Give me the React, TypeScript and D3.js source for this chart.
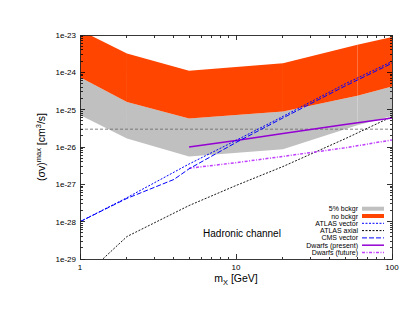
import React from "react";
import * as d3 from "d3";

const W = 415, H = 321;
const M = { left: 80, right: 392, top: 35, bottom: 259 };

// Bands
const bandMass = [1, 2, 5, 20, 60, 100];
const noBkgTop = [1.35e-23, 3.2e-24, 1.1e-24, 1.75e-24, 5.5e-24, 8.9e-24];
const bandMid = [7.4e-25, 1.6e-25, 5.8e-26, 8.9e-26, 2.35e-25, 4.2e-25];
const bkg5Bottom = [7.2e-26, 1.7e-26, 5.6e-27, 8.7e-27, 3.8e-26, 6.8e-26];
const bandSegments = [[0, 1], [1, 3], [3, 4], [4, 5]];

// Lines
const atlasVecMass = [1, 2, 5, 10, 20, 50, 100];
const atlasVec = [1.0e-28, 4.4e-28, 3.5e-27, 1.5e-26, 6.6e-26, 4.9e-25, 1.95e-24];
const cmsVecMass = [1, 2, 4, 5, 10, 20, 50, 100];
const cmsVec = [1.0e-28, 4.2e-28, 1.35e-27, 2.6e-27, 1.32e-26, 6.0e-26, 4.3e-25, 1.75e-24];
const atlasAxMass = [1, 2, 5, 10, 20, 50, 100];
const atlasAx = [2.7e-30, 4.0e-29, 2.7e-28, 9.3e-28, 3.0e-27, 1.66e-26, 6.5e-26];
const dwarfMass = [5, 10, 20, 50, 100];
const dwarfPresent = [1.0e-26, 1.5e-26, 2.3e-26, 4.0e-26, 6.0e-26];
const dwarfFuture = [2.7e-27, 3.8e-27, 5.6e-27, 9.5e-27, 1.55e-26];
const thermal = 3e-26;

const xTicks = [1, 10, 100];
const xTickLabels = ["1", "10", "100"];
const yTicks = [1e-29, 1e-28, 1e-27, 1e-26, 1e-25, 1e-24, 1e-23];
const yTickLabels = ["1e-29", "1e-28", "1e-27", "1e-26", "1e-25", "1e-24", "1e-23"];

const legendLabels = ["5% bckgr", "no bckgr", "ATLAS vector", "ATLAS axial", "CMS vector", "Dwarfs (present)", "Dwarfs (future)"];

const C_ORANGE = "#ff4500";
const C_GRAY = "#c0c0c0";
const C_BLUE = "#0000ff";
const C_PURPLE = "#9400d3";
const C_PURPLE2 = "#c040ff";

export default function App() {
  const x = d3.scaleLog().domain([1, 100]).range([M.left, M.right]);
  const y = d3.scaleLog().domain([1e-29, 1e-23]).range([M.bottom, M.top]);

  const line = (xs: number[], ys: number[]) =>
    d3.line<number>().x((_, i) => x(xs[i])).y((v) => y(v))(ys) || "";

  const area = (lo: number[], hi: number[], a: number, b: number) => {
    const idx = d3.range(a, b + 1);
    return d3.area<number>()
      .x((i) => x(bandMass[i]))
      .y0((i) => y(lo[i]))
      .y1((i) => y(hi[i]))(idx) || "";
  };

  const font = "'Liberation Sans', Arial, sans-serif";

  // minor ticks
  const xMinor: number[] = [];
  for (let d = 1; d < 100; d *= 10) for (let k = 2; k <= 9; k++) xMinor.push(d * k);
  const yMinor: number[] = [];
  for (let e = -29; e < -23; e++) for (const k of [2, 3, 4, 5, 6, 7, 8, 9]) yMinor.push(k * Math.pow(10, e));

  const legendX = 358;
  const legendY0 = 208.7;
  const legendDy = 7.3;

  const legendSample = (i: number) => {
    const yy = legendY0 + i * legendDy;
    const x0 = 362, x1 = 384;
    switch (i) {
      case 0: return <rect x={x0} y={yy - 2} width={x1 - x0} height={4} fill={C_GRAY} />;
      case 1: return <rect x={x0} y={yy - 2} width={x1 - x0} height={4} fill={C_ORANGE} />;
      case 2: return <line x1={x0} x2={x1} y1={yy} y2={yy} stroke={C_BLUE} strokeWidth={1} strokeDasharray="2,1.5" />;
      case 3: return <line x1={x0} x2={x1} y1={yy} y2={yy} stroke="#000" strokeWidth={1} strokeDasharray="2,1.5" />;
      case 4: return <line x1={x0} x2={x1} y1={yy} y2={yy} stroke={C_BLUE} strokeWidth={1} strokeDasharray="5,2" />;
      case 5: return <line x1={x0} x2={x1} y1={yy} y2={yy} stroke={C_PURPLE} strokeWidth={1.5} />;
      default: return <line x1={x0} x2={x1} y1={yy} y2={yy} stroke={C_PURPLE2} strokeWidth={1.5} strokeDasharray="3,1.5,1,1.5" />;
    }
  };

  return (
    <svg width={W} height={H} style={{ display: "block", position: "absolute", left: 0, top: 0 }}>
      <rect x={0} y={0} width={W} height={H} fill="#fff" />
      <defs>
        <clipPath id="plotclip">
          <rect x={M.left} y={M.top} width={M.right - M.left} height={M.bottom - M.top} />
        </clipPath>
      </defs>
      <g clipPath="url(#plotclip)">
        {bandSegments.map(([a, b], k) => (
          <path key={"g" + k} d={area(bkg5Bottom, bandMid, a, b)} fill={C_GRAY} />
        ))}
        {bandSegments.map(([a, b], k) => (
          <path key={"o" + k} d={area(bandMid, noBkgTop, a, b)} fill={C_ORANGE} />
        ))}
        <line x1={M.left} x2={M.right} y1={y(thermal)} y2={y(thermal)} stroke="#666" strokeWidth={0.8} strokeDasharray="3,2" />
        <path d={line(atlasAxMass, atlasAx)} fill="none" stroke="#000" strokeWidth={0.9} strokeDasharray="2,1.5" />
        <path d={line(dwarfMass, dwarfFuture)} fill="none" stroke={C_PURPLE2} strokeWidth={1.5} strokeDasharray="3,1.5,1,1.5" />
        <path d={line(dwarfMass, dwarfPresent)} fill="none" stroke={C_PURPLE} strokeWidth={1.5} />
        <path d={line(cmsVecMass, cmsVec)} fill="none" stroke={C_BLUE} strokeWidth={1} strokeDasharray="5,2" />
        <path d={line(atlasVecMass, atlasVec)} fill="none" stroke={C_BLUE} strokeWidth={1} strokeDasharray="2,1.5" />
      </g>

      {/* ticks */}
      <g stroke="#000" strokeWidth={0.8} shapeRendering="crispEdges">
        {xTicks.map((t) => (
          <g key={"xt" + t}>
            <line x1={x(t)} x2={x(t)} y1={M.bottom} y2={M.bottom - 5} />
            <line x1={x(t)} x2={x(t)} y1={M.top} y2={M.top + 5} />
          </g>
        ))}
        {xMinor.map((t) => (
          <g key={"xm" + t}>
            <line x1={x(t)} x2={x(t)} y1={M.bottom} y2={M.bottom - 2.5} />
            <line x1={x(t)} x2={x(t)} y1={M.top} y2={M.top + 2.5} />
          </g>
        ))}
        {yTicks.map((t) => (
          <g key={"yt" + t}>
            <line x1={M.left} x2={M.left + 5} y1={y(t)} y2={y(t)} />
            <line x1={M.right} x2={M.right - 5} y1={y(t)} y2={y(t)} />
          </g>
        ))}
        {yMinor.map((t) => (
          <g key={"ym" + t}>
            <line x1={M.left} x2={M.left + 2.5} y1={y(t)} y2={y(t)} />
            <line x1={M.right} x2={M.right - 2.5} y1={y(t)} y2={y(t)} />
          </g>
        ))}
      </g>
      <rect x={M.left} y={M.top} width={M.right - M.left} height={M.bottom - M.top} fill="none" stroke="#222" strokeWidth={0.9} shapeRendering="crispEdges" />

      {/* tick labels */}
      <g fontFamily={font} fontSize={8} fill="#000">
        {xTicks.map((t, i) => (
          <text key={"xl" + t} x={x(t)} y={M.bottom + 11} textAnchor="middle">{xTickLabels[i]}</text>
        ))}
        {yTicks.map((t, i) => (
          <text key={"yl" + t} x={M.left - 4} y={y(t) + 3} textAnchor="end">{yTickLabels[i]}</text>
        ))}
      </g>

      {/* axis titles */}
      <text x={236} y={282} textAnchor="middle" fontFamily={font} fontSize={10.5}>
        m<tspan fontSize={7.5} dy={2.5}>X</tspan><tspan dy={-2.5}> [GeV]</tspan>
      </text>
      <text transform={`translate(45,${(M.top + M.bottom) / 2}) rotate(-90)`} textAnchor="middle" fontFamily={font} fontSize={10.5}>
        (σv)<tspan fontSize={7.5} dy={-4}>max</tspan><tspan dy={4}> [cm</tspan><tspan fontSize={7.5} dy={-4}>3</tspan><tspan dy={4}>/s]</tspan>
      </text>

      <text x={242} y={236.5} textAnchor="middle" fontFamily={font} fontSize={10}>Hadronic channel</text>

      {/* legend */}
      <g fontFamily={font} fontSize={7}>
        {legendLabels.map((l, i) => (
          <g key={l}>
            <text x={legendX} y={legendY0 + i * legendDy + 2.5} textAnchor="end">{l}</text>
            {legendSample(i)}
          </g>
        ))}
      </g>
    </svg>
  );
}
